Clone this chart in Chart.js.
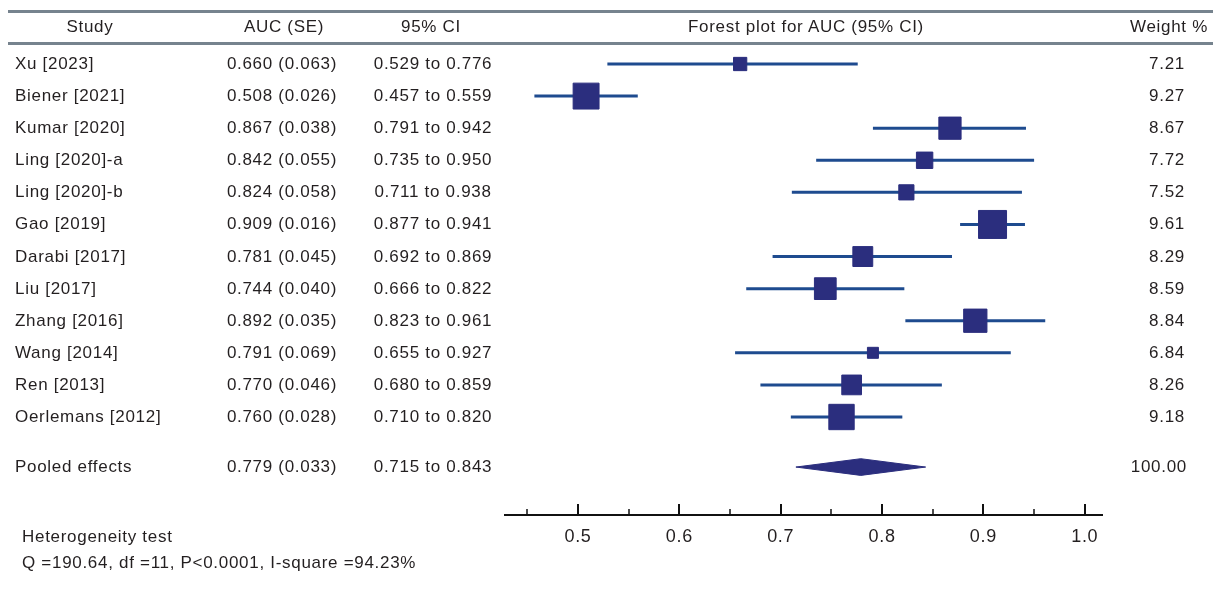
<!DOCTYPE html>
<html>
<head>
<meta charset="utf-8">
<script src="https://cdn.jsdelivr.net/npm/chart.js@4.4.0/dist/chart.umd.min.js"></script>
<style>
    html, body { margin: 0; padding: 0; background: #fff; }
    #wrap {
        position: relative; width: 1213px; height: 590px; overflow: hidden;
        font-family: "Liberation Sans", Arial, Helvetica, sans-serif; font-size: 17px; color: #231f20;
        letter-spacing: 0.7px;
    }
    #myChart { position: absolute; left: 0; top: 0; }
    .cell { position: absolute; white-space: nowrap; line-height: 20px; }
    .rule { position: absolute; left: 8px; right: 0; height: 3px; background: #76838e; }
</style>
</head>
<body>
<div id="wrap">
    <div class="rule" style="top:10px"></div>
    <div class="rule" style="top:42px"></div>
    <canvas id="myChart" width="1213" height="590"></canvas>
</div>
<script>
// study data
const studies = ['Xu [2023]', 'Biener [2021]', 'Kumar [2020]', 'Ling [2020]-a', 'Ling [2020]-b', 'Gao [2019]',
    'Darabi [2017]', 'Liu [2017]', 'Zhang [2016]', 'Wang [2014]', 'Ren [2013]', 'Oerlemans [2012]'];
const auc = [0.660, 0.508, 0.867, 0.842, 0.824, 0.909, 0.781, 0.744, 0.892, 0.791, 0.770, 0.760];
const se = [0.063, 0.026, 0.038, 0.055, 0.058, 0.016, 0.045, 0.040, 0.035, 0.069, 0.046, 0.028];
const ciLow = [0.529, 0.457, 0.791, 0.735, 0.711, 0.877, 0.692, 0.666, 0.823, 0.655, 0.680, 0.710];
const ciHigh = [0.776, 0.559, 0.942, 0.950, 0.938, 0.941, 0.869, 0.822, 0.961, 0.927, 0.859, 0.820];
const weights = [7.21, 9.27, 8.67, 7.72, 7.52, 9.61, 8.29, 8.59, 8.84, 6.84, 8.26, 9.18];

// pooled estimate
const pooledLabel = 'Pooled effects';
const pooledAuc = 0.779;
const pooledSe = 0.033;
const pooledLow = 0.715;
const pooledHigh = 0.843;
const pooledWeight = 100.00;

// axis ticks
const majorTicks = [0.5, 0.6, 0.7, 0.8, 0.9, 1.0];
const minorTicks = [0.45, 0.55, 0.65, 0.75, 0.85, 0.95];

const headers = ['Study', 'AUC (SE)', '95% CI', 'Forest plot for AUC (95% CI)', 'Weight %'];
const hetTitle = 'Heterogeneity test';
const hetStats = 'Q =190.64, df =11, P<0.0001, I-square =94.23%';

const lineColor = '#1e4b8f';
const boxColor = '#2b2e7e';
const pooledRow = 13.56;

// rows are 1..12, pooled row sits a little lower
const rowOf = (i) => i + 1;

// square side grows with weight
function boxRadius(w) {
    const side = 11 + (w - 6.84) / (9.61 - 6.84) * 17;
    return side / Math.SQRT2;
}

const ciSets = studies.map((s, i) => ({
    type: 'line',
    data: [{ x: ciLow[i], y: rowOf(i) }, { x: ciHigh[i], y: rowOf(i) }],
    borderColor: lineColor,
    borderWidth: 3,
    pointRadius: 0,
    order: 2
}));

const boxSet = {
    type: 'scatter',
    data: auc.map((v, i) => ({ x: v, y: rowOf(i) })),
    pointStyle: 'rect',
    pointRadius: weights.map(boxRadius),
    backgroundColor: boxColor,
    borderColor: boxColor,
    borderWidth: 1,
    order: 0
};

const dh = 0.26;
const diamondSet = {
    type: 'line',
    data: [
        { x: pooledLow, y: pooledRow },
        { x: pooledAuc, y: pooledRow - dh },
        { x: pooledHigh, y: pooledRow },
        { x: pooledAuc, y: pooledRow + dh },
        { x: pooledLow, y: pooledRow }
    ],
    borderColor: boxColor,
    borderWidth: 1,
    backgroundColor: boxColor,
    fill: 'shape',
    pointRadius: 0,
    order: 1
};

// upward tick marks along the axis line
const tickMarks = {
    id: 'tickMarks',
    afterDraw(chart) {
        const ctx = chart.ctx;
        const xScale = chart.scales.x;
        const base = chart.chartArea.bottom;
        ctx.save();
        ctx.strokeStyle = '#111';
        ctx.lineWidth = 2;
        majorTicks.forEach((v) => {
            const px = Math.round(xScale.getPixelForValue(v));
            ctx.beginPath();
            ctx.moveTo(px, base);
            ctx.lineTo(px, base - 11);
            ctx.stroke();
        });
        ctx.lineWidth = 1.5;
        minorTicks.forEach((v) => {
            const px = Math.round(xScale.getPixelForValue(v));
            ctx.beginPath();
            ctx.moveTo(px, base);
            ctx.lineTo(px, base - 6);
            ctx.stroke();
        });
        ctx.restore();
    }
};

const ctx = document.getElementById('myChart');
const myChart = new Chart(ctx, {
    data: { datasets: [boxSet, diamondSet, ...ciSets] },
    options: {
        responsive: false,
        animation: false,
        layout: { padding: { left: 505, right: 111, top: 0, bottom: 0 } },
        plugins: { legend: { display: false }, tooltip: { enabled: false } },
        scales: {
            x: {
                type: 'linear',
                min: 0.428,
                max: 1.017,
                afterBuildTicks: (scale) => { scale.ticks = majorTicks.map((v) => ({ value: v })); },
                afterFit: (scale) => { scale.height = 75; },
                grid: { display: false, drawTicks: false },
                border: { display: true, color: '#111', width: 2 },
                ticks: {
                    padding: 11,
                    color: '#231f20',
                    font: { family: '"Liberation Sans", Arial, sans-serif', size: 18 },
                    callback: (v) => Number(v).toFixed(1)
                }
            },
            y: {
                type: 'linear',
                display: false,
                reverse: true,
                min: -0.994,
                max: 15.054
            }
        }
    },
    plugins: [tickMarks]
});

// fit the row range so row 1 lands at 64px and row 12 at 417px
const area = myChart.chartArea;
const unit = (417 - 64) / 11;
const yMin = 1 - (64 - area.top) / unit;
myChart.options.scales.y.min = yMin;
myChart.options.scales.y.max = yMin + (area.bottom - area.top) / unit;
myChart.update();

// table text as html, rows placed from the chart's y scale
const wrap = document.getElementById('wrap');
function addText(text, x, y, align) {
    const el = document.createElement('div');
    el.className = 'cell';
    el.textContent = text;
    el.style.top = (y - 10) + 'px';
    if (align === 'right') {
        el.style.right = (1213 - x) + 'px';
    } else if (align === 'center') {
        el.style.left = x + 'px';
        el.style.transform = 'translateX(-50%)';
    } else {
        el.style.left = x + 'px';
    }
    wrap.appendChild(el);
}

const headY = 27;
addText(headers[0], 90, headY, 'center');
addText(headers[1], 284, headY, 'center');
addText(headers[2], 431, headY, 'center');
addText(headers[3], 806, headY, 'center');
addText(headers[4], 1208, headY, 'right');

const yScale = myChart.scales.y;
studies.forEach((s, i) => {
    const py = yScale.getPixelForValue(rowOf(i));
    addText(s, 15, py, 'left');
    addText(`${auc[i].toFixed(3)} (${se[i].toFixed(3)})`, 282, py, 'center');
    addText(`${ciLow[i].toFixed(3)} to ${ciHigh[i].toFixed(3)}`, 433, py, 'center');
    addText(weights[i].toFixed(2), 1185, py, 'right');
});

const poolY = yScale.getPixelForValue(pooledRow);
addText(pooledLabel, 15, poolY, 'left');
addText(`${pooledAuc.toFixed(3)} (${pooledSe.toFixed(3)})`, 282, poolY, 'center');
addText(`${pooledLow.toFixed(3)} to ${pooledHigh.toFixed(3)}`, 433, poolY, 'center');
addText(pooledWeight.toFixed(2), 1187, poolY, 'right');

addText(hetTitle, 22, 537, 'left');
addText(hetStats, 22, 563, 'left');
</script>
</body>
</html>
